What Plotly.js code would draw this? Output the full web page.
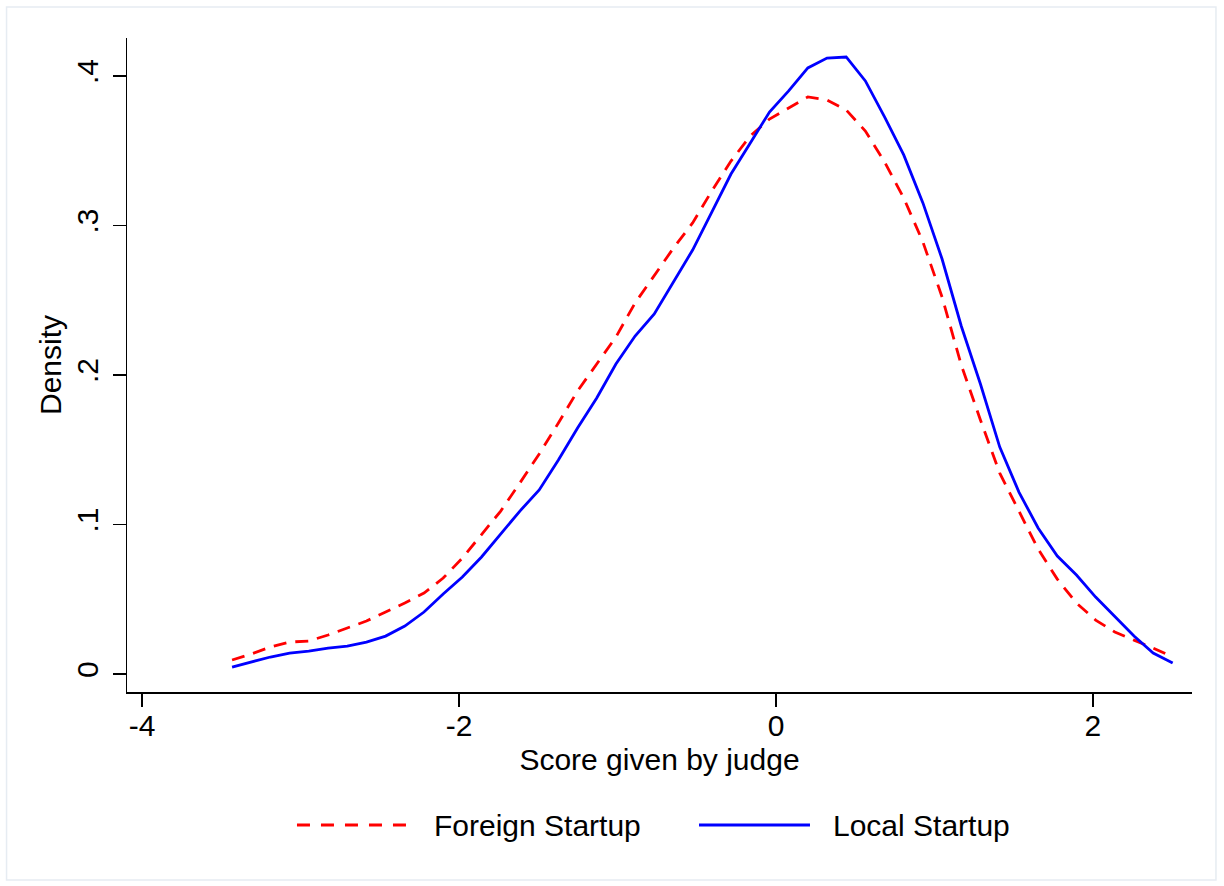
<!DOCTYPE html>
<html>
<head>
<meta charset="utf-8">
<script src="https://cdn.plot.ly/plotly-3.0.1.min.js"></script>
<style>
  html, body { margin: 0; padding: 0; background: #ffffff; }
  #chart { width: 1224px; height: 886px; }
</style>
</head>
<body>
<div id="chart"></div>
<script>
// Evaluation grid (score given by judge)
const scoreGrid = [
  -3.432, -3.311, -3.190, -3.069, -2.948, -2.826, -2.705, -2.584, -2.463, -2.342,
  -2.221, -2.100, -1.979, -1.858, -1.737, -1.616, -1.494, -1.373, -1.252, -1.131,
  -1.010, -0.889, -0.768, -0.647, -0.526, -0.405, -0.284, -0.162, -0.041, 0.080,
  0.201, 0.322, 0.443, 0.564, 0.685, 0.806, 0.927, 1.048, 1.169, 1.290,
  1.412, 1.533, 1.654, 1.775, 1.896, 2.017, 2.138, 2.259, 2.380, 2.503
];

// Kernel density, foreign startups
const foreignDensity = [
  0.0094, 0.0134, 0.0181, 0.0214, 0.0221, 0.0261, 0.0308, 0.0355, 0.0415, 0.0475,
  0.0542, 0.0642, 0.0776, 0.0930, 0.1090, 0.1278, 0.1472, 0.1679, 0.1893, 0.2074,
  0.2254, 0.2482, 0.2662, 0.2849, 0.3017, 0.3231, 0.3431, 0.3599, 0.3712, 0.3786,
  0.3860, 0.3839, 0.3773, 0.3632, 0.3425, 0.3184, 0.2890, 0.2522, 0.2067, 0.1699,
  0.1344, 0.1090, 0.0836, 0.0635, 0.0475, 0.0361, 0.0281, 0.0227, 0.0174, 0.0114
];

// Kernel density, local startups
const localDensity = [
  0.0047, 0.0080, 0.0114, 0.0140, 0.0154, 0.0174, 0.0187, 0.0214, 0.0254, 0.0321,
  0.0415, 0.0535, 0.0649, 0.0783, 0.0936, 0.1090, 0.1231, 0.1431, 0.1645, 0.1846,
  0.2074, 0.2261, 0.2408, 0.2622, 0.2836, 0.3090, 0.3344, 0.3552, 0.3759, 0.3900,
  0.4054, 0.4120, 0.4127, 0.3967, 0.3726, 0.3472, 0.3151, 0.2776, 0.2328, 0.1940,
  0.1518, 0.1217, 0.0977, 0.0789, 0.0662, 0.0515, 0.0381, 0.0254, 0.0140, 0.0074
];

const seriesNames = ["Foreign Startup", "Local Startup"];
const xTickVals = [-4, -2, 0, 2];
const xTickText = ["-4", "-2", "0", "2"];
const yTickVals = [0, 0.1, 0.2, 0.3, 0.4];
const yTickText = ["0", ".1", ".2", ".3", ".4"];

const FONT = "Liberation Sans, Arial, Helvetica, sans-serif";
const RED = "#ff0000";
const BLUE = "#0000ff";

const traces = [
  {
    x: scoreGrid, y: foreignDensity, name: seriesNames[0],
    type: "scatter", mode: "lines",
    line: { color: RED, width: 2.8, dash: "13px,9px" },
    showlegend: false, hoverinfo: "x+y+name"
  },
  {
    x: scoreGrid, y: localDensity, name: seriesNames[1],
    type: "scatter", mode: "lines",
    line: { color: BLUE, width: 2.8 },
    showlegend: false, hoverinfo: "x+y+name"
  }
];

const legY = -0.2034;
const layout = {
  width: 1224, height: 886,
  margin: { l: 127, r: 32, t: 38, b: 194 },
  paper_bgcolor: "#ffffff", plot_bgcolor: "#ffffff",
  font: { family: FONT, size: 30, color: "#000000" },
  showlegend: false,
  xaxis: {
    range: [-4.095, 2.625],
    tickvals: xTickVals, ticktext: xTickText,
    ticks: "outside", ticklen: 13, tickwidth: 1.5, tickcolor: "#000",
    ticklabelstandoff: -7,
    showline: true, linecolor: "#000", linewidth: 1.5,
    showgrid: false, zeroline: false,
    tickfont: { family: FONT, size: 30, color: "#000" },
    title: { text: "Score given by judge", font: { family: FONT, size: 30, color: "#000" }, standoff: 8 }
  },
  yaxis: {
    range: [-0.012, 0.4254],
    tickvals: yTickVals, ticktext: yTickText,
    tickangle: -90,
    ticks: "outside", ticklen: 13, tickwidth: 1.5, tickcolor: "#000",
    ticklabelstandoff: 3,
    showline: true, linecolor: "#000", linewidth: 1.5,
    showgrid: false, zeroline: false,
    tickfont: { family: FONT, size: 30, color: "#000" },
    title: { text: "Density", font: { family: FONT, size: 30, color: "#000" }, standoff: 0 }
  },
  shapes: [
    { type: "rect", xref: "paper", yref: "paper",
      x0: -0.1131, x1: 1.0225, y0: -0.2875, y1: 1.0474,
      line: { color: "#e6ecf2", width: 1.5 }, fillcolor: "rgba(0,0,0,0)", layer: "below" },
    { type: "line", xref: "paper", yref: "paper",
      x0: 0.1596, x1: 0.2685, y0: legY, y1: legY,
      line: { color: RED, width: 2.8, dash: "13px,11px" } },
    { type: "line", xref: "paper", yref: "paper",
      x0: 0.5371, x1: 0.6413, y0: legY, y1: legY,
      line: { color: BLUE, width: 2.8 } }
  ],
  annotations: [
    { xref: "paper", yref: "paper", x: 0.2864, y: legY, xanchor: "left", yanchor: "middle",
      text: seriesNames[0], showarrow: false, font: { family: FONT, size: 30, color: "#000" } },
    { xref: "paper", yref: "paper", x: 0.6610, y: legY, xanchor: "left", yanchor: "middle",
      text: seriesNames[1], showarrow: false, font: { family: FONT, size: 30, color: "#000" } }
  ]
};

Plotly.newPlot("chart", traces, layout, { displayModeBar: false, staticPlot: true });
</script>
</body>
</html>
